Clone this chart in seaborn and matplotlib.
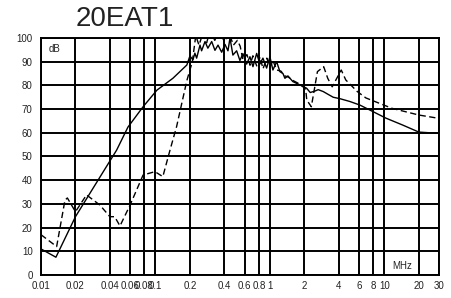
import numpy as np
import pandas as pd
import seaborn as sns
import matplotlib.pyplot as plt

# solid curve (MHz, dB)
solid_f = [0.01, 0.0135, 0.02, 0.0458, 0.0575, 0.078, 0.103, 0.142, 0.188, 0.200,
           0.2126, 0.221, 0.229, 0.245, 0.253, 0.271, 0.287, 0.310, 0.331, 0.352,
           0.379, 0.405, 0.430, 0.448, 0.475, 0.512, 0.547, 0.581, 0.626, 0.669,
           0.711, 0.766, 0.818, 0.869, 0.936, 1.00, 1.062, 1.145, 1.223, 1.30,
           1.352, 1.436, 1.587, 1.828, 2.093, 2.25, 2.472, 2.642, 2.923, 3.229,
           3.573, 4.087, 5.0, 6.11, 7.47, 10.3, 14.4, 20.0, 29.0, 30.0]
solid_db = [11, 7.5, 24.6, 52.7, 62.4, 71, 78, 83, 88.6, 92.4,
            90.8, 93.6, 91.5, 97.0, 94.6, 98.5, 95.7, 98.5, 94.8, 97.0,
            94.0, 97.3, 94.6, 100, 92.8, 94.6, 90.5, 93.4, 89.0, 92.1,
            87.9, 93.5, 89.0, 91.5, 87.3, 92.1, 86.5, 90.0, 85.8, 85.0,
            83.0, 84.0, 81.6, 80.2, 78.8, 77.0, 77.6, 78.2, 77.4, 76.2,
            75.0, 74.4, 73.2, 71.7, 69.6, 66.2, 63.3, 60.3, 59.8, 59.8]

# dashed curve (MHz, dB)
dashed_f = [0.01, 0.0137, 0.0162, 0.017, 0.02, 0.025, 0.0327, 0.04, 0.044, 0.049,
            0.06, 0.078, 0.099, 0.116, 0.134, 0.153, 0.188, 0.21, 0.225, 0.24,
            0.26, 0.28, 0.30, 0.33, 0.36, 0.40, 0.44, 0.48, 0.52, 0.55,
            0.58, 0.63, 0.67, 0.71, 0.77, 0.82, 0.87, 0.94, 1.0, 1.06,
            1.15, 1.25, 1.35, 1.45, 1.6, 1.83, 2.05, 2.1, 2.3, 2.5,
            2.6, 2.95, 3.2, 3.5, 4.2, 4.6, 5.8, 6.9, 11.7, 20.0, 29.0, 30.0]
dashed_db = [17, 12, 31.6, 32.5, 26.7, 33.8, 29.5, 24.6, 24.6, 20.7,
             29.5, 42.2, 43.6, 41.5, 52.7, 62.6, 82, 90, 101, 97,
             102, 98, 103, 99, 103, 98.5, 102, 97, 99, 96.5,
             91, 93, 88.5, 92.5, 88, 92, 87, 91.5, 87.5, 90.5,
             86.5, 86, 84, 83.5, 82, 80.5, 78.5, 73.8, 71, 81,
             85.8, 87.9, 83, 79.4, 86.5, 82.3, 77.4, 74.7, 70.3, 67.5, 66.2, 66.0]

xticks = [0.01, 0.02, 0.04, 0.06, 0.08, 0.1, 0.2, 0.4, 0.6, 0.8, 1, 2, 4, 6, 8, 10, 20, 30]
xlabels = ['0.01', '0.02', '0.04', '0.06', '0.08', '0.1', '0.2', '0.4', '0.6', '0.8',
           '1', '2', '4', '6', '8', '10', '20', '30']
yticks = list(range(0, 101, 10))

sns.set_style('white')
plt.rcParams['font.family'] = ['Liberation Sans', 'DejaVu Sans']

df_solid = pd.DataFrame({'f': solid_f, 'dB': solid_db})
df_dash = pd.DataFrame({'f': dashed_f, 'dB': dashed_db})

fig = plt.figure(figsize=(4.52, 2.98), dpi=100)
ax = fig.add_axes([0.0907, 0.0772, 0.8805, 0.7953])

sns.lineplot(data=df_solid, x='f', y='dB', ax=ax, color='black', lw=1.0, sort=False)
sns.lineplot(data=df_dash, x='f', y='dB', ax=ax, color='black', lw=1.0, sort=False,
             dashes=False, linestyle=(0, (4.5, 2.5)))

ax.set_xscale('log')
ax.set_xlim(0.01, 30)
ax.set_ylim(0, 100)
ax.set_xticks(xticks)
ax.set_xticklabels(xlabels)
ax.minorticks_off()
ax.set_yticks(yticks)
ax.tick_params(length=0, labelsize=7, colors='#222222')
ax.tick_params(axis='y', pad=6)
ax.tick_params(axis='x', pad=4)
ax.grid(True, which='major', color='black', lw=1.4)
ax.set_axisbelow(True)
for s in ax.spines.values():
    s.set_color('black')
    s.set_linewidth(1.4)
ax.set_xlabel('')
ax.set_ylabel('')

ax.text(55 / 452, 1 - 49 / 298, 'dB', transform=fig.transFigure, ha='center', va='center',
        fontsize=7, color='#222222')
ax.text(402 / 452, 1 - 266 / 298, 'MHz', transform=fig.transFigure, ha='center', va='center',
        fontsize=7, color='#222222')
fig.text(125 / 452, 1 - 19 / 298, '20EAT1', ha='center', va='center', fontsize=20,
         color='#222222')

fig.savefig('out.png', dpi=100)
